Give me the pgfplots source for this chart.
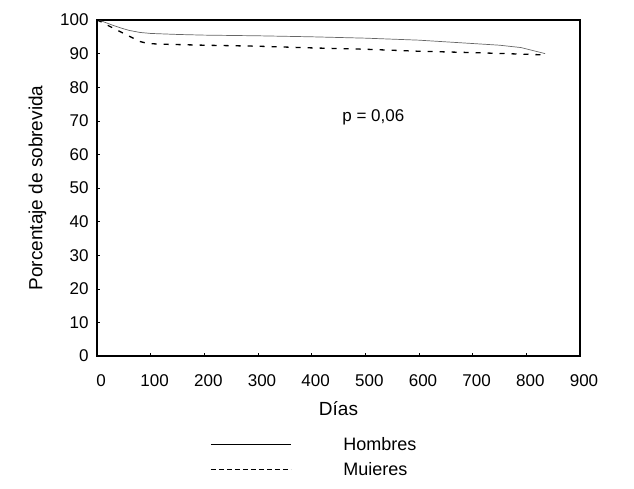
\documentclass[border=0pt]{standalone}
\usepackage{fontspec}
\setmainfont{Liberation Sans}
\usepackage{pgfplots}
\pgfplotsset{compat=1.18}

\begin{document}
\begin{tikzpicture}
  \path[use as bounding box] (-97pt,20pt) rectangle (537pt,-468pt);
  \begin{axis}[
      at={(0pt,0pt)}, anchor=north west,
      scale only axis, width=483pt, height=336pt,
      xmin=0, xmax=900, ymin=0, ymax=100,
      xtick={0,100,...,900}, ytick={0,10,...,100},
      axis line style={line width=1.1pt},
      tick style={black, line width=0.6pt},
      major tick length=3pt,
      tick align=inside,
      xtick pos=bottom, ytick pos=left,
      /pgf/number format/assume math mode=true,
      tick label style={font=\fontsize{17}{19}\selectfont},
      xticklabel style={yshift=-15pt, xshift=4pt},
      yticklabel style={xshift=-5pt},
      label style={font=\fontsize{19}{22}\selectfont},
      xlabel={Días},
      ylabel={Porcentaje de sobrevida},
      xlabel style={yshift=-8pt},
      ylabel style={yshift=7pt},
      legend style={at={(0.45,-0.23)}, anchor=north, draw=none,
        font=\fontsize{18}{21}\selectfont, row sep=6pt,
        cells={anchor=west}},
      legend image code/.code={\draw[#1] (0pt,0pt) -- (80pt,0pt);},
      legend cell align=left,
    ]
    \addplot[black!60, line width=0.7pt,
      legend image code/.code={\draw[black, line width=0.6pt] (0pt,0pt) -- (80pt,0pt);}]
      coordinates {
      (0,100) (10,99.6) (20,99.0) (30,98.4) (45,97.6) (60,96.9) (80,96.3)
      (100,96.0) (150,95.7) (200,95.5) (300,95.3) (400,95.0) (500,94.6)
      (550,94.3) (600,94.0) (650,93.5) (700,93.0) (750,92.5) (790,91.8)
      (815,90.8) (835,90.0)};
    \addlegendentry{\hspace{50pt}Hombres}
    \addplot[black, line width=1.3pt, dash pattern=on 5pt off 7pt,
      legend image code/.code={\draw[black, line width=0.9pt, dash pattern=on 5pt off 3pt] (0pt,0pt) -- (80pt,0pt);}]
      coordinates {
      (0,100) (10,99.3) (20,98.4) (35,97.2) (50,96.0) (65,94.8) (80,93.6)
      (95,93.0) (120,92.8) (200,92.5) (300,92.2) (400,91.7) (500,91.3)
      (600,90.7) (700,90.3) (760,90.0) (800,89.8) (835,89.6)};
    \addlegendentry{\hspace{50pt}Muieres}
    \node[font=\fontsize{17}{19}\selectfont] at (axis cs:515,71) {p = 0,06};
  \end{axis}
\end{tikzpicture}
\end{document}
